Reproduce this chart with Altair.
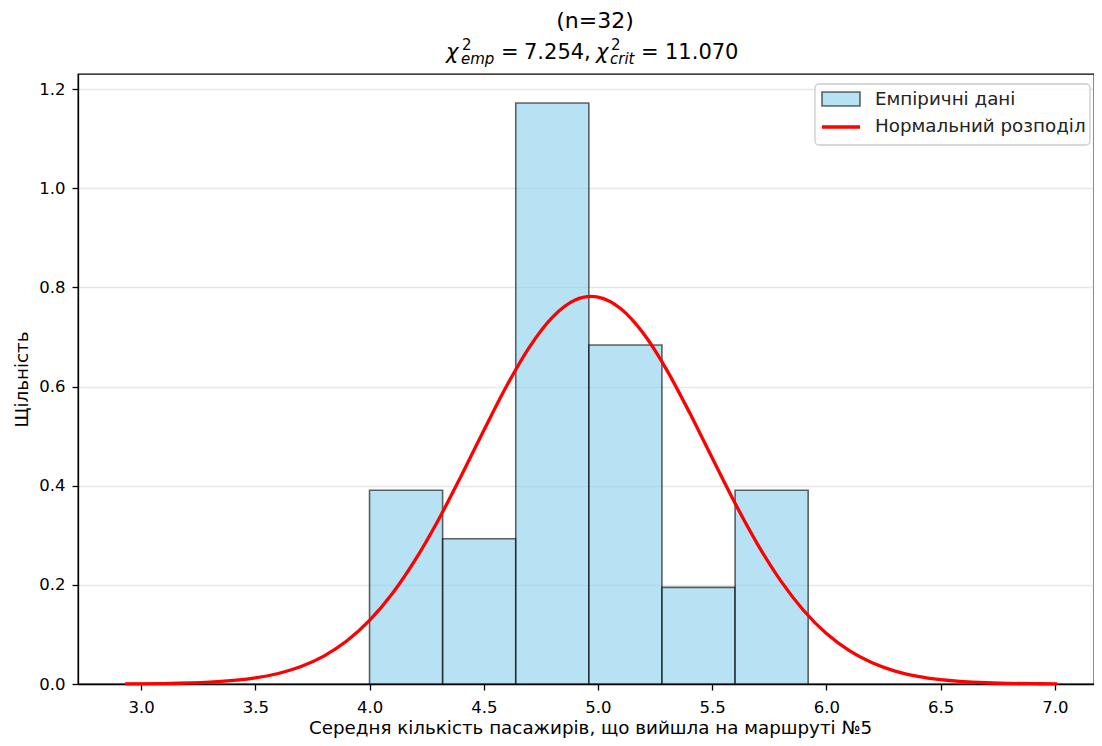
import altair as alt
import pandas as pd

# Histogram (density) bins
bin_start = [4.00, 4.32, 4.64, 4.96, 5.28, 5.60]
bin_end = [4.32, 4.64, 4.96, 5.28, 5.60, 5.92]
density = [0.391, 0.293, 1.172, 0.684, 0.195, 0.391]

# Normal curve points
curve_x = [2.93, 3.1, 3.3, 3.5, 3.6, 3.7, 3.8, 3.9, 4.0, 4.1, 4.2, 4.3, 4.4, 4.5, 4.6,
           4.7, 4.8, 4.9, 4.97, 5.0, 5.1, 5.2, 5.3, 5.4, 5.5, 5.6, 5.7, 5.8, 5.9, 6.0,
           6.1, 6.2, 6.3, 6.4, 6.5, 6.7, 6.9, 7.01]
curve_y = [0.0003, 0.0009, 0.0037, 0.0123, 0.0212, 0.0352, 0.0563, 0.0866, 0.1282, 0.1825,
           0.2502, 0.3299, 0.4188, 0.5114, 0.6011, 0.6797, 0.7397, 0.7747, 0.782, 0.7807,
           0.757, 0.7064, 0.6343, 0.5481, 0.4557, 0.3646, 0.2808, 0.208, 0.1483, 0.1017,
           0.0672, 0.0427, 0.0261, 0.0154, 0.0087, 0.0025, 0.0006, 0.0003]

x_ticks = [3.0, 3.5, 4.0, 4.5, 5.0, 5.5, 6.0, 6.5, 7.0]
y_ticks = [0.0, 0.2, 0.4, 0.6, 0.8, 1.0, 1.2]

legend_labels = ["Емпіричні дані", "Нормальний розподіл"]
x_title = "Середня кількість пасажирів, що вийшла на маршруті №5"
y_title = "Щільність"

FONT = "DejaVu Sans"
FS_TICK = 16.5
FS = 18.3
W, H = 1016, 610

bars_df = pd.DataFrame({"start": bin_start, "end": bin_end, "density": density})
curve_df = pd.DataFrame({"x": curve_x, "y": curve_y})

xscale = alt.Scale(domain=[2.724, 7.171], nice=False, zero=False)
yscale = alt.Scale(domain=[0, 1.2306], nice=False, zero=False)

xaxis = alt.Axis(values=x_ticks, format=".1f", grid=False, title=x_title,
                 tickSize=6, tickWidth=1.3, tickColor="black", domainColor="black", domainWidth=1.3,
                 labelFont=FONT, labelFontSize=FS_TICK, labelColor="black", labelPadding=9,
                 titleFont=FONT, titleFontSize=FS, titleFontWeight="normal", titleColor="black",
                 titleX=512, titleY=44, titleBaseline="middle", titleAlign="center")
yaxis = alt.Axis(values=y_ticks, format=".1f", grid=True, title=y_title,
                 gridColor="#b0b0b0", gridOpacity=0.3, gridWidth=1.3,
                 tickSize=6, tickWidth=1.3, tickColor="black", domainColor="black", domainWidth=1.3,
                 labelFont=FONT, labelFontSize=FS_TICK, labelColor="black", labelPadding=7,
                 titleFont=FONT, titleFontSize=FS, titleFontWeight="normal", titleColor="black",
                 titleX=-56, titleY=H / 2, titleAngle=-90, titleBaseline="middle",
                 titleAlign="center")

bars = alt.Chart(bars_df).mark_rect(
    fill="#87ceeb", fillOpacity=0.6, stroke="black", strokeOpacity=0.6, strokeWidth=1.6
).encode(
    x=alt.X("start:Q", scale=xscale, axis=xaxis),
    x2="end:Q",
    y=alt.Y("density:Q", scale=yscale, axis=yaxis),
    y2=alt.datum(0),
)

line = alt.Chart(curve_df).mark_line(
    color="red", strokeWidth=3.3, interpolate="monotone"
).encode(x=alt.X("x:Q", scale=xscale), y=alt.Y("y:Q", scale=yscale))

one = alt.Data(values=[{}])

legend_box = alt.Chart(one).mark_rect(
    fill="white", fillOpacity=0.8, stroke="#cccccc", strokeWidth=1.3, cornerRadius=4
).encode(x=alt.value(737), x2=alt.value(1012), y=alt.value(10), y2=alt.value(71))
legend_swatch = alt.Chart(one).mark_rect(
    fill="#87ceeb", fillOpacity=0.6, stroke="black", strokeOpacity=0.6, strokeWidth=1.6
).encode(x=alt.value(744), x2=alt.value(782), y=alt.value(18), y2=alt.value(32))
legend_line = alt.Chart(one).mark_rule(color="red", strokeWidth=3.3).encode(
    x=alt.value(744), x2=alt.value(782), y=alt.value(53))
legend_t1 = alt.Chart(one).mark_text(
    text=legend_labels[0], font=FONT, fontSize=FS, align="left", baseline="middle", color="#222222"
).encode(x=alt.value(797), y=alt.value(26))
legend_t2 = alt.Chart(one).mark_text(
    text=legend_labels[1], font=FONT, fontSize=FS, align="left", baseline="middle", color="#222222"
).encode(x=alt.value(797), y=alt.value(53))


def txt(s, x, y, size=21, italic=False, align="left"):
    kw = dict(text=s, font=FONT, fontSize=size, align=align, baseline="alphabetic",
              color="black")
    if italic:
        kw["fontStyle"] = "italic"
    return alt.Chart(one).mark_text(**kw).encode(x=alt.value(x), y=alt.value(y))


title_parts = [
    txt("(n=32)", 517, -46, size=22, align="center"),
    txt("χ", 368, -15, italic=True),
    txt("2", 384, -24, size=15),
    txt("emp", 383, -10, size=15, italic=True),
    txt("=", 423, -15),
    txt("7.254,", 446, -15),
    txt("χ", 518, -15, italic=True),
    txt("2", 533, -24, size=15),
    txt("crit", 532, -10, size=15, italic=True),
    txt("=", 563, -15),
    txt("11.070", 587, -15),
]

chart = alt.layer(
    bars, line, legend_box, legend_swatch, legend_line, legend_t1, legend_t2, *title_parts
).properties(
    width=W, height=H,
    autosize=alt.AutoSizeParams(type="none"),
    padding={"left": 70, "top": 66, "right": 0, "bottom": 54},
).configure_view(stroke="black", strokeWidth=1.3)

chart.save("out.html", embed_options={"renderer": "svg", "actions": False})
